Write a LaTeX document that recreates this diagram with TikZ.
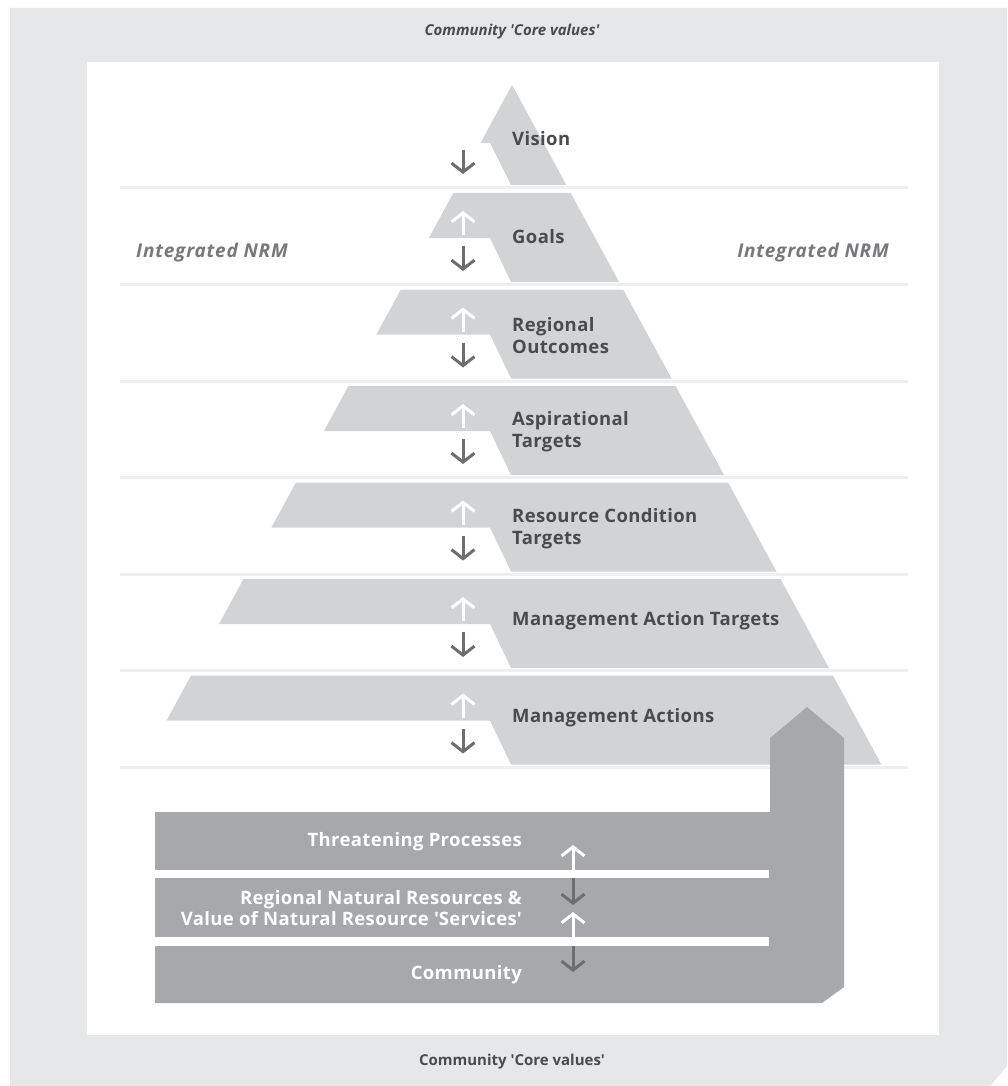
\documentclass[tikz,border=0pt]{standalone}
\usepackage{fontspec}
\setmainfont{Open Sans}
\usetikzlibrary{arrows.meta}
\definecolor{bgout}{HTML}{E6E7E9}
\definecolor{bandc}{HTML}{D1D3D5}
\definecolor{sepc}{HTML}{EEEFF1}
\definecolor{blockc}{HTML}{A6A8AB}
\definecolor{txtc}{HTML}{4B4B4D}
\definecolor{nrmc}{HTML}{77787B}
\definecolor{dnc}{HTML}{6D6E70}
\newcommand{\sq}{\textquotesingle}
\tikzset{
  band/.style={fill=bandc},
  uparr/.style={draw=white,line width=3pt,-{Straight Barb[length=9pt,width=23pt]}},
  dnarr/.style={draw=dnc,line width=3pt,-{Straight Barb[length=9pt,width=23pt]}},
  lvl/.style={anchor=west,text=txtc,font=\fontsize{18.5}{22}\selectfont\bfseries\addfontfeature{LetterSpace=2},align=left,inner sep=0pt},
  blk/.style={anchor=east,text=white,font=\fontsize{18.5}{20.5}\selectfont\bfseries\addfontfeature{LetterSpace=2},align=right,inner sep=0pt},
  nrm/.style={text=nrmc,font=\fontsize{19}{21}\selectfont\bfseries\itshape\addfontfeature{LetterSpace=4},inner sep=0pt},
  core/.style={text=txtc,font=\fontsize{15}{19}\selectfont\bfseries,inner sep=0pt}
}
\begin{document}
\begin{tikzpicture}[x=1pt,y=-1pt]
\useasboundingbox (0,0) rectangle (1007,1086);
% backgrounds
\fill[white] (0,0) rectangle (1007,1086);
\fill[bgout] (10,8) -- (1007,8) -- (1007,1066) -- (990,1086) -- (10,1086) -- cycle;
\fill[white] (87,62) rectangle (939,1035);
% separators
\foreach \k in {0,...,6}{
  \pgfmathsetmacro\S{188+96.5*\k}
  \draw[sepc,line width=3pt] (120,\S) -- (908,\S);
}
% vision
\fill[band] (512,85) -- ({512+0.5436*100},185) -- (511,185) -- (490,143) -- ({512-0.5436*58},143) -- cycle;
\draw[dnarr] (463,150) -- (463,174);
% bands
\foreach \k in {0,...,5}{
  \pgfmathsetmacro\T{193+96.5*\k}
  \pgfmathsetmacro\M{\T+45}
  \pgfmathsetmacro\B{\T+89}
  \pgfmathsetmacro\xlT{512-0.5436*(\T-85)}
  \pgfmathsetmacro\xrT{512+0.5436*(\T-85)}
  \pgfmathsetmacro\xrB{512+0.5436*(\B-85)}
  \pgfmathsetmacro\xlM{512-0.5436*(\M-85)}
  \fill[band] (\xlT,\T) -- (\xrT,\T) -- (\xrB,\B) -- (511,\B) -- (490,\M) -- (\xlM,\M) -- cycle;
  \draw[uparr] (463,{\T+42}) -- (463,{\T+18});
  \draw[dnarr] (463,{\M+8}) -- (463,{\M+33});
}
% labels
\node[lvl] (vision) at (512,139) {Vision};
\node[lvl] (goals) at (512,237) {Goals};
\node[lvl] (regout) at (512,335.5) {Regional\\Outcomes};
\node[lvl] (aspt) at (512,432) {Aspirational\\Targets};
\node[lvl] (rct) at (512,528.5) {Resource Condition\\Targets};
\node[lvl] (mat) at (512,621) {Management Action Targets};
\node[lvl] (ma) at (512,717.5) {Management Actions};
\node[nrm] (nrml) at (212,253) {Integrated NRM};
\node[nrm] (nrmr) at (813,253) {Integrated NRM};
\node[core,font=\fontsize{15}{19}\selectfont\bfseries\itshape] (coretop) at (512,32) {Community \sq Core values\sq};
\node[core] (corebot) at (512,1062) {Community \sq Core values\sq};
% bottom block
\fill[blockc] (155,812) -- (770,812) -- (770,738) -- (807,707) -- (844,738) -- (844,987) -- (822,1003) -- (155,1003) -- cycle;
\fill[white] (155,870) rectangle (769,878);
\fill[white] (155,937) rectangle (769,946);
\node[blk] (threat) at (522,842) {Threatening Processes};
\node[blk] (natres) at (522,908) {Regional Natural Resources \&\\Value of Natural Resource \sq Services\sq};
\node[blk] (comm) at (522,975) {Community};
\draw[uparr] (573,870) -- (573,845);
\draw[dnarr] (573,878) -- (573,905);
\draw[uparr] (573,937) -- (573,912);
\draw[dnarr] (573,946) -- (573,972);
\end{tikzpicture}
\end{document}
